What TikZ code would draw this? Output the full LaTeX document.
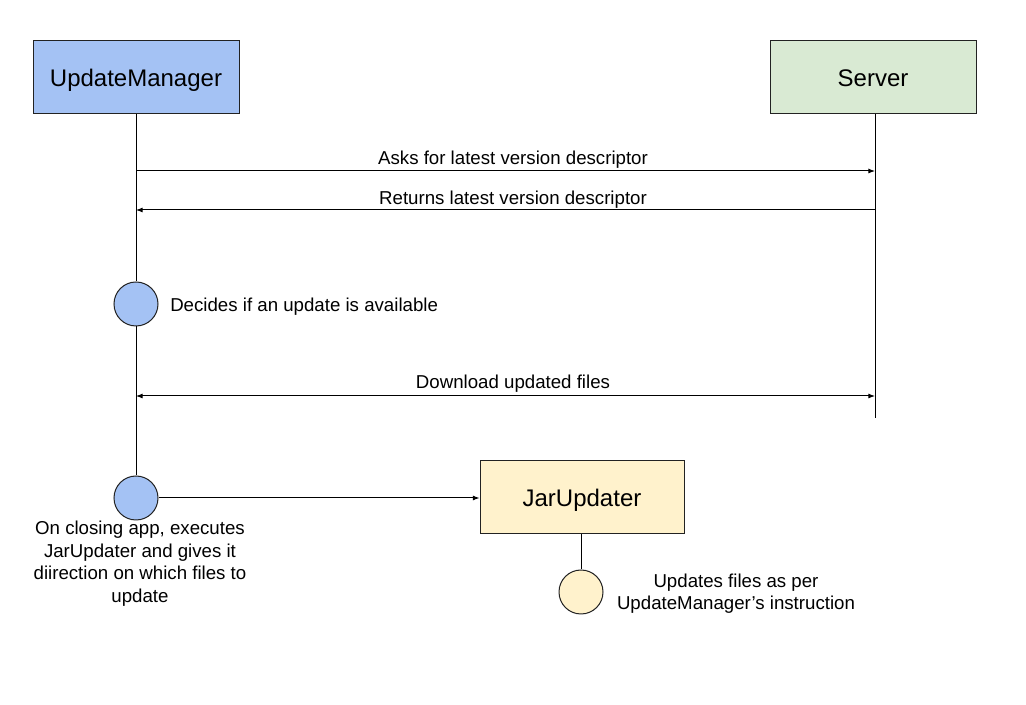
\documentclass[tikz,border=0pt]{standalone}
\usepackage{fontspec}
\setmainfont{Liberation Sans}
\usetikzlibrary{arrows.meta}
\definecolor{umblue}{HTML}{A4C2F4}
\definecolor{srvgreen}{HTML}{D9EAD3}
\definecolor{juyellow}{HTML}{FFF2CC}
\definecolor{edge}{HTML}{222222}
\tikzset{
  actor/.style={draw=edge, line width=0.75pt, minimum width=154.5pt, minimum height=54.75pt, inner sep=0pt, text height=15pt, text depth=1.5pt, font=\fontsize{18}{21}\selectfont},
  act/.style={draw=edge, circle, line width=0.75pt, minimum size=33pt, inner sep=0pt},
  life/.style={draw=black, line width=0.75pt},
  msg/.style={draw=black, line width=0.75pt, -{Latex[length=5pt,width=3.8pt]}},
  lbl/.style={font=\fontsize{14}{16.9}\selectfont, inner sep=0pt, align=center}
}
\begin{document}
\begin{tikzpicture}[x=0.75pt,y=-0.75pt]
\useasboundingbox[fill=white] (0,0) rectangle (1026,705);
% actors
\node[actor, fill=umblue] (um) at (136,77.5) {UpdateManager};
\node[actor, fill=srvgreen] (srv) at (873,77.5) {Server};
\node[actor, fill=juyellow, minimum width=153pt] (ju) at (582,497.5) {JarUpdater};
% activations
\node[act, fill=umblue] (c1) at (136,304) {};
\node[act, fill=umblue] (c2) at (136,498) {};
\node[act, fill=juyellow] (c3) at (581,592) {};
% lifelines
\coordinate (umtop) at (136,114);
\coordinate (srvtop) at (875,114);
\coordinate (srvend) at (875,418);
\draw[life] (umtop) -- (c1.north);
\draw[life] (c1.south) -- (c2.north);
\draw[life] (srvtop) -- (srvend);
\draw[life] (ju.south -| c3.north) -- (c3.north);
% messages
\coordinate (m1a) at (136,171); \coordinate (m1b) at (875,171);
\coordinate (m2a) at (875,210); \coordinate (m2b) at (136,210);
\coordinate (m3a) at (136,396); \coordinate (m3b) at (875,396);
\draw[msg] (m1a) -- (m1b);
\draw[msg] (m2a) -- (m2b);
\draw[msg, {Latex[length=5pt,width=3.8pt]}-{Latex[length=5pt,width=3.8pt]}] (m3a) -- (m3b);
\draw[msg] (c2.east) -- (c2.east -| ju.west);
% labels
\node[lbl] (l1) at (513,160) {Asks for latest version descriptor};
\node[lbl] (l2) at (513,200) {Returns latest version descriptor};
\node[lbl, anchor=west] (l3) at (170,307) {Decides if an update is available};
\node[lbl] (l4) at (513,384) {Download updated files};
\node[lbl, anchor=north] (l5) at (140,521) {On closing app, executes\\JarUpdater and gives it\\diirection on which files to\\update};
\node[lbl] (l6) at (736,593.5) {Updates files as per\\UpdateManager’s instruction};
\end{tikzpicture}
\end{document}
